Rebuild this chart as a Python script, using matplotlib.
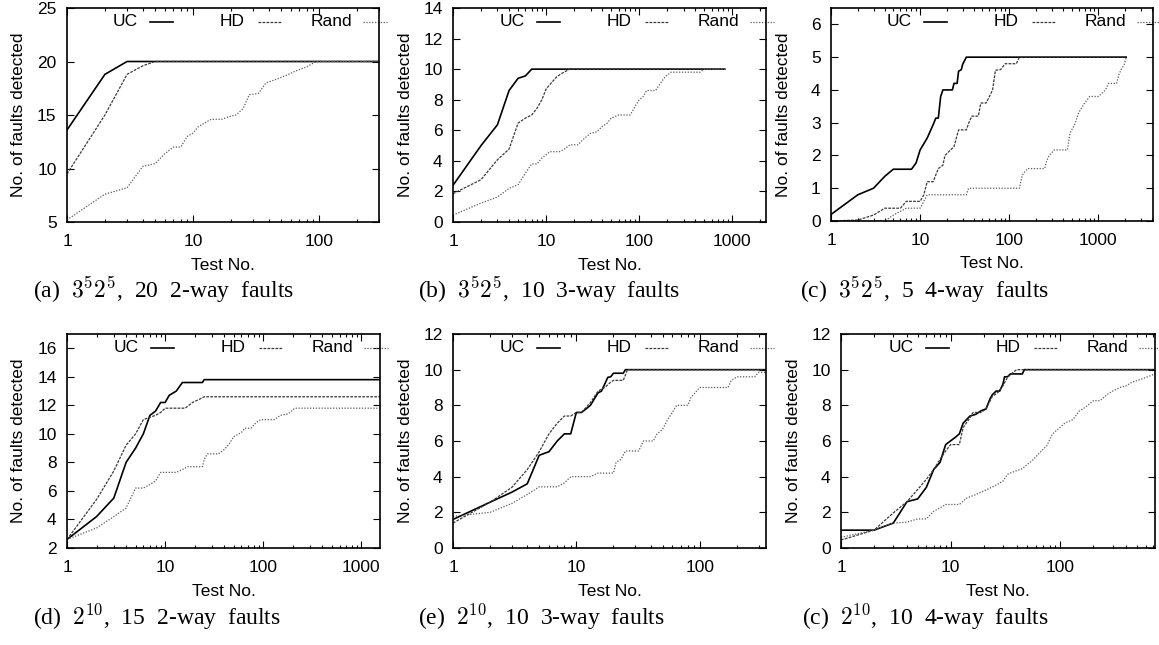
import matplotlib
matplotlib.use('Agg')
import matplotlib.pyplot as plt
from matplotlib.ticker import LogLocator, NullFormatter

plt.rcParams['font.family'] = ['Liberation Sans', 'DejaVu Sans']
plt.rcParams['mathtext.fontset'] = 'cm'

# ---------------- data ----------------
a_uc_x = [1, 2, 3, 300]
a_uc_y = [13.6, 18.8, 20, 20]
a_hd_x = [1, 2, 3, 4, 5, 300]
a_hd_y = [9.5, 15.0, 18.8, 19.6, 20, 20]
a_rd_x = [1, 2, 3, 4, 5, 6, 7, 8, 9, 10, 11, 13, 14, 17, 20, 22, 25, 28, 33, 38, 45, 55, 65, 80, 95, 300]
a_rd_y = [5.2, 7.6, 8.2, 10.2, 10.45, 11.4, 12, 12, 13, 13.3, 13.9, 14.4, 14.6, 14.6, 14.9, 15, 15.6, 16.9, 17, 18,
          18.3, 18.7, 19.1, 19.5, 20, 20]

b_uc_x = [1, 2, 3, 4, 5, 6, 7, 830]
b_uc_y = [2.4, 5.0, 6.36, 8.6, 9.4, 9.56, 10, 10]
b_hd_x = [1, 2, 3, 4, 5, 6, 7, 8, 9, 10, 11, 13, 15, 18, 830]
b_hd_y = [1.85, 2.77, 4.07, 4.77, 6.47, 6.8, 7.0, 7.45, 8.0, 8.7, 9.0, 9.5, 9.75, 10, 10]
b_rd_x = [1, 2, 3, 4, 5, 6, 7, 8, 9, 11, 14, 16, 18, 22, 25, 30, 35, 40, 45, 50, 60, 80, 90, 100, 110, 120, 150,
          170, 190, 220, 450, 500, 830]
b_rd_y = [0.45, 1.24, 1.63, 2.2, 2.44, 3.2, 3.8, 3.8, 4.18, 4.6, 4.6, 4.8, 5.05, 5.05, 5.4, 5.8, 5.9, 6.25, 6.45,
          6.8, 7.0, 7.0, 7.55, 8.0, 8.2, 8.6, 8.6, 9.1, 9.5, 9.8, 9.8, 10, 10]

c_uc_x = [1, 2, 3, 4, 5, 8, 9, 10, 12, 14, 15, 16, 17, 18, 23, 24, 26, 27, 29, 30, 33, 2050]
c_uc_y = [0.2, 0.8, 1.0, 1.36, 1.58, 1.58, 1.77, 2.17, 2.53, 2.94, 3.14, 3.14, 3.8, 4.0, 4.0, 4.2, 4.2, 4.57, 4.62,
          4.78, 5.0, 5.0]
c_hd_x = [1, 2, 3, 4, 6, 7, 10, 11, 12, 14, 16, 18, 19, 22, 24, 27, 33, 35, 38, 45, 48, 55, 60, 65, 70, 80, 90,
          120, 130, 2050]
c_hd_y = [0, 0.03, 0.18, 0.39, 0.39, 0.6, 0.6, 0.8, 1.2, 1.2, 1.6, 1.7, 2.0, 2.17, 2.27, 2.78, 2.78, 2.98, 3.2,
          3.2, 3.6, 3.6, 3.8, 4.0, 4.6, 4.62, 4.8, 4.8, 5.0, 5.0]
c_rd_x = [1, 4, 5, 7, 10, 11, 12, 33, 35, 130, 140, 160, 250, 260, 280, 320, 450, 480, 550, 600, 700, 800, 1000,
          1200, 1300, 1600, 1700, 1800, 1950, 2050]
c_rd_y = [0, 0, 0.18, 0.39, 0.39, 0.6, 0.8, 0.8, 1.0, 1.0, 1.4, 1.6, 1.6, 1.8, 2.0, 2.17, 2.17, 2.68, 2.98, 3.3,
          3.6, 3.8, 3.8, 4.0, 4.2, 4.2, 4.47, 4.62, 4.78, 4.98]

d_uc_x = [1, 2, 3, 4, 5, 6, 7, 8, 9, 10, 11, 13, 15, 24, 25, 1550]
d_uc_y = [2.6, 4.2, 5.5, 8.0, 9.0, 10.0, 11.3, 11.6, 12.2, 12.2, 12.7, 13.0, 13.6, 13.6, 13.8, 13.8]
d_hd_x = [1, 2, 3, 4, 5, 6, 8, 9, 10, 16, 19, 22, 25, 1550]
d_hd_y = [2.6, 5.4, 7.4, 9.2, 10.0, 11.0, 11.3, 11.5, 11.8, 11.8, 12.2, 12.4, 12.6, 12.6]
d_rd_x = [1, 2, 3, 4, 5, 6, 7, 8, 9, 13, 15, 17, 24, 25, 27, 35, 40, 45, 50, 60, 65, 75, 85, 95, 130, 150, 180,
          210, 1550]
d_rd_y = [2.6, 3.4, 4.2, 4.8, 6.2, 6.2, 6.45, 6.7, 7.3, 7.3, 7.5, 7.7, 7.7, 8.2, 8.6, 8.6, 8.9, 9.3, 9.8, 10.1,
          10.4, 10.4, 10.8, 11.0, 11.0, 11.3, 11.4, 11.8, 11.8]

e_uc_x = [1, 2, 3, 4, 5, 6, 7, 8, 9, 10, 11, 12, 13, 15, 16, 18, 19, 20, 24, 25, 345]
e_uc_y = [1.6, 2.57, 3.13, 3.6, 5.2, 5.4, 6.0, 6.4, 6.4, 7.6, 7.6, 7.8, 8.0, 8.7, 8.8, 9.57, 9.6, 9.8, 9.8, 10, 10]
e_hd_x = [1, 2, 3, 4, 5, 6, 7, 8, 9, 10, 11, 13, 15, 17, 19, 20, 24, 26, 345]
e_hd_y = [1.4, 2.57, 3.4, 4.4, 5.4, 6.4, 7.0, 7.4, 7.4, 7.6, 7.6, 8.15, 8.8, 9.0, 9.3, 9.4, 9.4, 10, 10]
e_rd_x = [1, 2, 3, 4, 5, 7, 8, 9, 13, 15, 20, 21, 23, 25, 32, 35, 42, 45, 50, 55, 60, 65, 80, 85, 90, 100, 170,
          180, 200, 280, 300, 345]
e_rd_y = [1.78, 2.0, 2.5, 3.0, 3.43, 3.43, 3.65, 4.0, 4.0, 4.2, 4.2, 4.8, 4.97, 5.44, 5.44, 6.0, 6.0, 6.38, 6.66,
          7.2, 7.6, 8.0, 8.0, 8.44, 8.63, 9.0, 9.0, 9.38, 9.6, 9.6, 9.85, 9.85]

f_uc_x = [1, 2, 3, 4, 5, 6, 7, 8, 9, 11, 12, 13, 15, 17, 19, 21, 23, 24, 26, 28, 30, 31, 33, 35, 45, 47, 730]
f_uc_y = [1.0, 1.0, 1.4, 2.6, 2.75, 3.4, 4.4, 4.8, 5.8, 6.2, 6.4, 7.0, 7.4, 7.5, 7.7, 7.8, 8.4, 8.6, 8.8, 8.8, 9.2,
          9.6, 9.6, 9.76, 9.76, 10, 10]
f_hd_x = [1, 2, 3, 4, 5, 6, 7, 8, 9, 10, 12, 13, 15, 16, 19, 21, 24, 27, 30, 33, 37, 40, 730]
f_hd_y = [0.45, 1.0, 1.97, 2.6, 3.28, 3.85, 4.4, 4.97, 5.44, 5.8, 5.8, 6.75, 7.3, 7.6, 7.6, 7.8, 8.5, 8.73, 9.1,
          9.57, 9.85, 10, 10]
f_rd_x = [1, 2, 3, 4, 5, 6, 7, 8, 9, 12, 14, 17, 20, 25, 30, 33, 37, 45, 50, 55, 65, 75, 85, 95, 110, 130, 150,
          170, 200, 230, 270, 300, 350, 400, 450, 550, 730]
f_rd_y = [0.6, 1.0, 1.4, 1.45, 1.63, 1.63, 2.06, 2.25, 2.44, 2.44, 2.8, 3.0, 3.2, 3.47, 3.75, 4.13, 4.26, 4.45,
          4.69, 4.88, 5.35, 5.72, 6.4, 6.66, 7.0, 7.2, 7.7, 7.9, 8.26, 8.26, 8.63, 8.8, 9.0, 9.1, 9.3, 9.47, 9.76]

series_names = ['UC', 'HD', 'Rand']
captions = [r"(a)  $3^5 2^5$,  20  2-way  faults", r"(b)  $3^5 2^5$,  10  3-way  faults",
            r"(c)  $3^5 2^5$,  5  4-way  faults", r"(d)  $2^{10}$,  15  2-way  faults",
            r"(e)  $2^{10}$,  10  3-way  faults", r"(c)  $2^{10}$,  10  4-way  faults"]
x_labels = ['1', '10', '100', '1000']
y_label = 'No. of faults detected'
x_label = 'Test No.'

panels = [
    dict(s=[(a_uc_x, a_uc_y), (a_hd_x, a_hd_y), (a_rd_x, a_rd_y)], xlim=(1, 300), ylim=(5, 25),
         yt=[5, 10, 15, 20, 25], rect=(67, 379, 8, 222), cap=(33, 290)),
    dict(s=[(b_uc_x, b_uc_y), (b_hd_x, b_hd_y), (b_rd_x, b_rd_y)], xlim=(1, 2300), ylim=(0, 14),
         yt=[0, 2, 4, 6, 8, 10, 12, 14], rect=(453, 766, 8, 222), cap=(418, 290)),
    dict(s=[(c_uc_x, c_uc_y), (c_hd_x, c_hd_y), (c_rd_x, c_rd_y)], xlim=(1, 4100), ylim=(0, 6.5),
         yt=[0, 1, 2, 3, 4, 5, 6], rect=(831, 1153, 8, 221), cap=(800, 290)),
    dict(s=[(d_uc_x, d_uc_y), (d_hd_x, d_hd_y), (d_rd_x, d_rd_y)], xlim=(1, 1550), ylim=(2, 17),
         yt=[2, 4, 6, 8, 10, 12, 14, 16], rect=(67, 380, 334, 548), cap=(33, 617)),
    dict(s=[(e_uc_x, e_uc_y), (e_hd_x, e_hd_y), (e_rd_x, e_rd_y)], xlim=(1, 345), ylim=(0, 12),
         yt=[0, 2, 4, 6, 8, 10, 12], rect=(453, 766, 334, 548), cap=(418, 617)),
    dict(s=[(f_uc_x, f_uc_y), (f_hd_x, f_hd_y), (f_rd_x, f_rd_y)], xlim=(1, 730), ylim=(0, 12),
         yt=[0, 2, 4, 6, 8, 10, 12], rect=(841, 1155, 334, 548), cap=(802, 617)),
]

styles = [dict(color='black', lw=1.2, ls='-'),
          dict(color='#3a3a3a', lw=0.9, ls=(0, (2.2, 1.0))),
          dict(color='#5a5a5a', lw=0.9, ls=(0, (1.0, 1.3)))]

W, H = 1159, 645
fig = plt.figure(figsize=(W / 100, H / 100), dpi=100)
FS = 12.5

# legend offsets (px from right edge of axes): text right end, sample start, sample end
leg = [(-241, -229, -206), (-134, -121, -98), (-27, -16, 8)]

for p, cap_text in zip(panels, captions):
    l, r, t, b = p['rect']
    ax = fig.add_axes([l / W, 1 - b / H, (r - l) / W, (b - t) / H])
    for (xs, ys), st in zip(p['s'], styles):
        ax.plot(xs, ys, color=st['color'], lw=st['lw'], linestyle=st['ls'])
    ax.set_xscale('log')
    ax.set_xlim(*p['xlim'])
    ax.set_ylim(*p['ylim'])
    decades = [1, 10, 100, 1000]
    xt = [d for d in decades if d <= p['xlim'][1]]
    ax.set_xticks(xt, x_labels[:len(xt)])
    ax.xaxis.set_minor_locator(LogLocator(base=10, subs=range(2, 10)))
    ax.xaxis.set_minor_formatter(NullFormatter())
    ax.set_yticks(p['yt'], [str(v) for v in p['yt']])
    ax.tick_params(which='both', direction='in', top=True, right=True, labelsize=FS, width=0.8)
    ax.tick_params(which='major', length=5)
    ax.tick_params(which='minor', length=2.5)
    ax.tick_params(axis='x', pad=8.5)
    ax.tick_params(axis='y', pad=7.5)
    for sp in ax.spines.values():
        sp.set_linewidth(1.2)
    # legend
    wpx = r - l
    yl = 0.935
    for (txt_end, s0, s1), name, st in zip(leg, series_names, styles):
        ax.text(1 + txt_end / wpx, yl, name, transform=ax.transAxes, ha='right', va='center', fontsize=FS)
        ax.plot([1 + s0 / wpx, 1 + s1 / wpx], [yl, yl], transform=ax.transAxes, clip_on=False,
                color=st['color'], lw=st['lw'], linestyle=st['ls'])
    # axis labels
    fig.text(((l + r) / 2) / W, 1 - (b + 43) / H, x_label, ha='center', va='center', fontsize=FS)
    fig.text((l - 48) / W, 1 - ((t + b) / 2) / H, y_label, ha='center', va='center', rotation=90, fontsize=FS)
    # caption
    cx, cy = p['cap']
    fig.text(cx / W, 1 - cy / H, cap_text, ha='left', va='center', fontsize=17,
             family=['Liberation Serif', 'DejaVu Serif'])

fig.savefig('out.png', dpi=100)
